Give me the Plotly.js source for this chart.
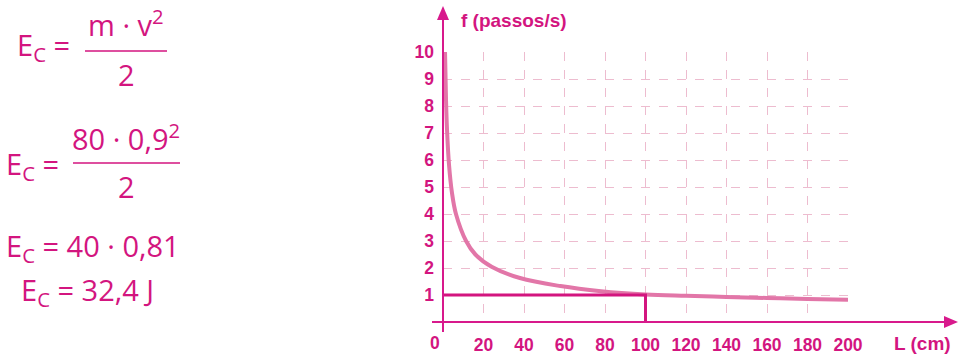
<!DOCTYPE html>
<html>
<head>
<meta charset="utf-8">
<script src="https://cdn.plot.ly/plotly-3.0.1.min.js"></script>
<style>
  html, body { margin: 0; padding: 0; background: #ffffff; }
  #chart { width: 962px; height: 361px; }
</style>
</head>
<body>
<div id="chart"></div>
<script>
// ---- data ----
const lengthCm = [1, 1.5, 2, 3, 4.4, 6.4, 11.4, 16, 24, 38, 58, 78, 100, 120, 140, 160, 180, 200];
const freq     = [10, 8.2, 7.1, 5.8, 4.8, 4, 3, 2.5, 2.05, 1.63, 1.33, 1.14, 1.02, 0.97, 0.93, 0.89, 0.85, 0.82];
const markL = [0, 100, 100];
const markF = [1, 1, 0];
const xTicks = [20, 40, 60, 80, 100, 120, 140, 160, 180, 200];
const yTicks = [1, 2, 3, 4, 5, 6, 7, 8, 9, 10];
const xTitle = 'L (cm)';
const yTitle = 'f (passos/s)';

// ---- styling ----
const W = 962, H = 361;
const M = {l: 443, r: 114, t: 52, b: 39};
const PW = W - M.l - M.r, PH = H - M.t - M.b;
const px = p => (p - M.l) / PW;           // pixel -> paper x
const py = p => (H - M.b - p) / PH;       // pixel -> paper y

const MAG = '#D3157F';
const AX = '#D8198C';
const CURVE = '#E276A8';
const GRID = '#EDBCCF';
const tickFont = {family: 'Liberation Sans, Arial, sans-serif', size: 17.5, color: MAG, weight: 'bold'};
const titleFont = {family: 'Liberation Sans, Arial, sans-serif', size: 19, color: MAG, weight: 'bold'};
const eqFont = {family: 'Open Sans, Noto Sans, sans-serif', size: 29, color: MAG};

const traces = [
  {x: lengthCm, y: freq, type: 'scatter', mode: 'lines',
   line: {color: CURVE, width: 4, shape: 'spline', smoothing: 1},
   cliponaxis: false, hoverinfo: 'skip'},
  {x: markL, y: markF, type: 'scatter', mode: 'lines',
   line: {color: MAG, width: 3}, cliponaxis: false, hoverinfo: 'skip'}
];

const shapes = [
  // x axis line + arrow
  {type: 'line', xref: 'paper', yref: 'paper', x0: px(432), x1: px(950), y0: py(322), y1: py(322),
   line: {color: AX, width: 2}, layer: 'above'},
  {type: 'path', xref: 'paper', yref: 'paper',
   path: `M ${px(958)} ${py(322)} L ${px(944)} ${py(316)} L ${px(944)} ${py(328)} Z`,
   fillcolor: AX, line: {width: 0}, layer: 'above'},
  // y axis line + arrow
  {type: 'line', xref: 'paper', yref: 'paper', x0: px(443), x1: px(443), y0: py(332), y1: py(16),
   line: {color: AX, width: 2}, layer: 'above'},
  {type: 'path', xref: 'paper', yref: 'paper',
   path: `M ${px(443)} ${py(6)} L ${px(437)} ${py(20)} L ${px(449)} ${py(20)} Z`,
   fillcolor: AX, line: {width: 0}, layer: 'above'},
  // fraction bars
  {type: 'line', xref: 'paper', yref: 'paper', x0: px(85), x1: px(167), y0: py(51), y1: py(51),
   line: {color: MAG, width: 1.5}},
  {type: 'line', xref: 'paper', yref: 'paper', x0: px(73), x1: px(180), y0: py(163), y1: py(163),
   line: {color: MAG, width: 1.5}}
];

const ann = (text, x, y, xanchor, font) => ({
  text, xref: 'paper', yref: 'paper', x: px(x), y: py(y),
  xanchor: xanchor || 'left', yanchor: 'middle', showarrow: false, font: font || eqFont
});

const annotations = [
  ann(yTitle, 459, 20, 'left', titleFont),
  ann(xTitle, 892, 343, 'left', titleFont),
  ann('0', 435, 343, 'center', tickFont),
  // formulas
  ann('E<sub>C</sub> =', 15, 47),
  ann('m · v<sup>2</sup>', 126, 23, 'center'),
  ann('2', 126, 74, 'center'),
  ann('E<sub>C</sub> =', 4, 165),
  ann('80 · 0,9<sup>2</sup>', 126, 137, 'center'),
  ann('2', 126, 186, 'center'),
  ann('E<sub>C</sub> = 40 · 0,81', 4, 247),
  ann('E<sub>C</sub> = 32,4 J', 19, 291)
];

const layout = {
  width: W, height: H, margin: M,
  paper_bgcolor: '#ffffff', plot_bgcolor: '#ffffff',
  showlegend: false,
  xaxis: {range: [0, 200], tickvals: xTicks, ticktext: xTicks.map(String),
          showgrid: true, gridcolor: GRID, gridwidth: 1, griddash: 'dash',
          zeroline: false, showline: false, ticks: '', ticklabelstandoff: 10,
          tickfont: tickFont, fixedrange: true},
  yaxis: {range: [0, 10], tickvals: yTicks, ticktext: yTicks.map(String),
          showgrid: true, gridcolor: GRID, gridwidth: 1, griddash: 'dash',
          zeroline: false, showline: false, ticks: '', ticklabelstandoff: 8,
          tickfont: tickFont, fixedrange: true},
  shapes, annotations
};

Plotly.newPlot('chart', traces, layout, {staticPlot: true, displayModeBar: false});
</script>
</body>
</html>
